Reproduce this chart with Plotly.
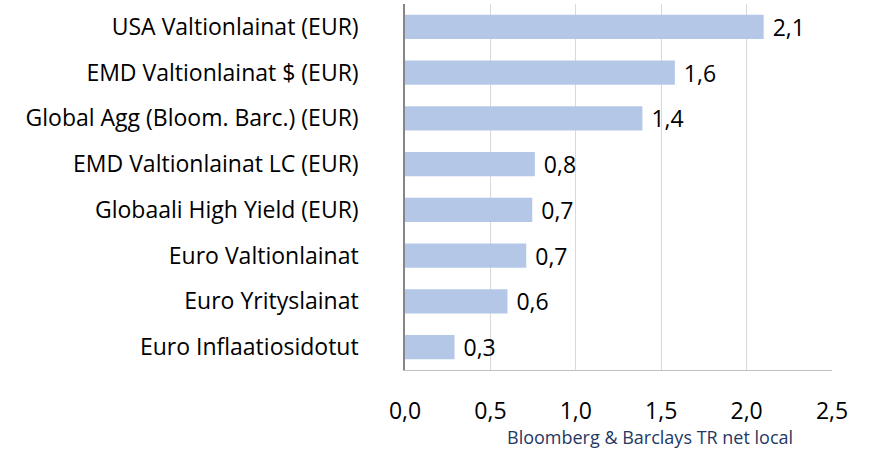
import plotly.graph_objects as go

categories = [
    "USA Valtionlainat (EUR)",
    "EMD Valtionlainat $ (EUR)",
    "Global Agg (Bloom. Barc.) (EUR)",
    "EMD Valtionlainat LC (EUR)",
    "Globaali High Yield (EUR)",
    "Euro Valtionlainat",
    "Euro Yrityslainat",
    "Euro Inflaatiosidotut",
]
values = [2.10, 1.58, 1.39, 0.76, 0.745, 0.71, 0.60, 0.29]
x_ticks = [0.0, 0.5, 1.0, 1.5, 2.0, 2.5]
x_tick_labels = ["0,0", "0,5", "1,0", "1,5", "2,0", "2,5"]
source_text = "Bloomberg & Barclays TR net local"

FONT = "Open Sans"
FS = 23

fig = go.Figure(
    go.Bar(
        x=values,
        y=categories,
        orientation="h",
        marker=dict(color="#b4c7e7", line=dict(width=0)),
        texttemplate="\u00a0%{x:.1f}",
        textposition="outside",
        cliponaxis=False,
        textfont=dict(family=FONT, size=FS, color="#000000"),
    )
)

plot_l, plot_r, plot_t, plot_b = 405, 44, 4, 79
plot_w = 876 - plot_l - plot_r
plot_h = 449 - plot_t - plot_b

fig.update_layout(
    width=876,
    height=449,
    margin=dict(l=plot_l, r=plot_r, t=plot_t, b=plot_b),
    paper_bgcolor="white",
    plot_bgcolor="white",
    separators=", ",
    showlegend=False,
    bargap=0.475,
    font=dict(family=FONT, size=FS, color="#000000"),
    uniformtext=dict(minsize=FS, mode="show"),
    xaxis=dict(
        range=[0, 2.5],
        tickvals=x_ticks,
        ticktext=x_tick_labels,
        showgrid=True,
        gridcolor="#d9d9d9",
        gridwidth=1,
        zeroline=False,
        showline=True,
        linecolor="#bfbfbf",
        linewidth=1,
        ticks="",
        ticklabelstandoff=20,
        tickfont=dict(family=FONT, size=FS, color="#000000"),
    ),
    yaxis=dict(
        autorange="reversed",
        showgrid=False,
        zeroline=False,
        showline=True,
        linecolor="#868686",
        linewidth=1.5,
        ticks="",
        ticklabelstandoff=40,
        tickfont=dict(family=FONT, size=FS, color="#000000"),
    ),
    annotations=[
        dict(
            text=source_text,
            x=(650 - plot_l) / plot_w,
            y=(449 - plot_b - 437) / plot_h,
            xref="paper",
            yref="paper",
            xanchor="center",
            yanchor="middle",
            showarrow=False,
            font=dict(family=FONT, size=18, color="#1f3864"),
        )
    ],
)

fig.write_html("out.html")
